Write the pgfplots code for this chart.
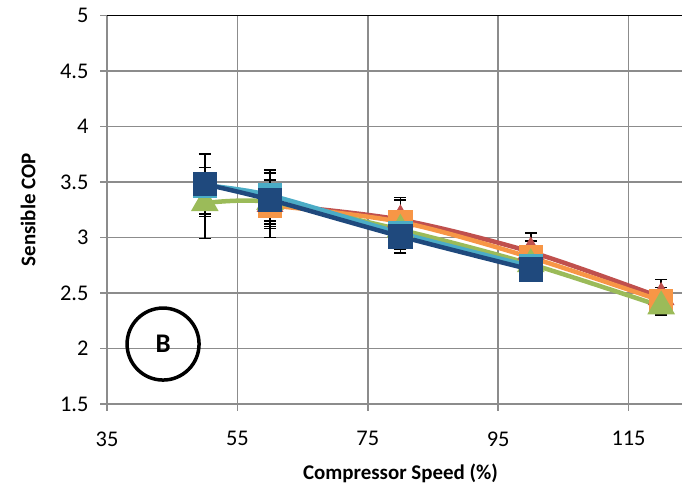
\documentclass[border=0pt]{standalone}
\usepackage{pgfplots}
\pgfplotsset{compat=1.18}
\usepackage{fontspec}
\setmainfont{Carlito}
\definecolor{cRed}{HTML}{C0504D}
\definecolor{cOrange}{HTML}{F79646}
\definecolor{cGreen}{HTML}{9BBB59}
\definecolor{cLBlue}{HTML}{4BACC6}
\definecolor{cDBlue}{HTML}{1F497D}
\definecolor{gridgray}{HTML}{8C8C8C}
\begin{document}
\begin{tikzpicture}[x=1bp,y=1bp]
\path[use as bounding box] (0,0) rectangle (682,494);
\begin{axis}[
  at={(107bp,90bp)}, anchor=south west,
  scale only axis, width=575bp, height=388.5bp,
  xmin=35, xmax=123.2, ymin=1.5, ymax=5,
  xtick={35,55,75,95,115}, ytick={1.5,2,2.5,3,3.5,4,4.5,5},
  axis lines=left, axis line style={-, draw=gridgray, line width=1.5bp},
  grid=major, major grid style={draw=gridgray, line width=1.5bp},
  tick align=outside, major tick length=7bp,
  tick style={draw=gridgray, line width=1.5bp},
  /pgf/number format/assume math mode=true,
  tick label style={font=\fontsize{22.5}{26}\selectfont, black},
  xticklabel style={yshift=-17bp},
  yticklabel style={xshift=-8bp},
  xlabel={Compressor Speed (\%)},
  ylabel={Sensible COP},
  xlabel style={at={(rel axis cs:0.5,0)}, anchor=north, yshift=-56bp, xshift=6bp, font=\fontsize{21}{25}\selectfont\bfseries},
  ylabel style={at={(rel axis cs:0,0.5)}, anchor=south, yshift=68bp, font=\fontsize{21}{25}\selectfont\bfseries},
  clip=false,
  error bars/y dir=both, error bars/y explicit,
  error bars/error bar style={black, line width=1.5bp, solid},
  error bars/error mark options={black, line width=1.5bp, mark size=6bp, rotate=90},
  every axis plot/.append style={smooth, line width=4.5bp},
]
\draw[black, line width=1.5bp] (rel axis cs:0,1) -- (rel axis cs:1,1);
% red
\addplot[color=cRed, mark=triangle*, mark size=11bp, mark options={fill=cRed, draw=none}]
  table[x=x, y=y, y error=e] {
x y e
60 3.30 0.22
80 3.16 0.20
100 2.87 0.17
120 2.46 0.16
};
% orange
\addplot[color=cOrange, mark=square*, mark size=10bp, mark options={fill=cOrange, draw=none}]
  table[x=x, y=y, y error=e] {
x y e
60 3.29 0.29
80 3.14 0.20
100 2.82 0.15
120 2.43 0.12
};
% green
\addplot[color=cGreen, mark=triangle*, mark size=11.5bp, mark options={fill=cGreen, draw=none}]
  table[x=x, y=y, y error=e] {
x y e
50 3.31 0.32
60 3.32 0.20
80 3.07 0.16
100 2.76 0.13
120 2.38 0.06
};
% light blue
\addplot[color=cLBlue, mark=square*, mark size=10bp, mark options={fill=cLBlue, draw=none}]
  table[x=x, y=y, y error=e] {
x y e
50 3.47 0.28
60 3.38 0.23
80 3.04 0.15
100 2.74 0.12
};
% dark blue
\addplot[color=cDBlue, mark=square*, mark size=10bp, mark options={fill=cDBlue, draw=none}]
  table[x=x, y=y, y error=e] {
x y e
50 3.48 0.27
60 3.34 0.24
80 3.01 0.15
100 2.71 0.09
};
\node[draw=black, circle, line width=3.5bp, minimum size=72bp, inner sep=0pt, font=\fontsize{27}{30}\selectfont\bfseries] at (axis cs:43.6,2.04) {B};
\end{axis}
\end{tikzpicture}
\end{document}
